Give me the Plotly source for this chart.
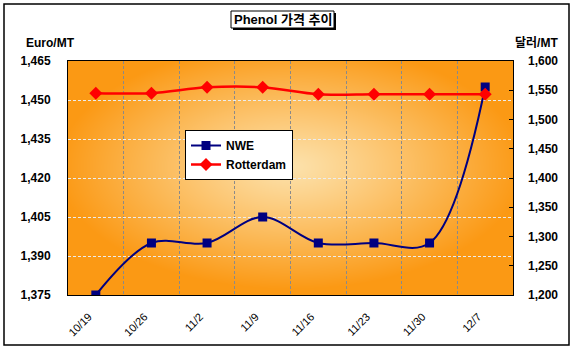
import base64, struct, zlib
import numpy as np
import plotly.graph_objects as go

# ---- data ----
dates = ["10/19", "10/26", "11/2", "11/9", "11/16", "11/23", "11/30", "12/7"]
nwe_euro = [1375, 1395, 1395, 1405, 1395, 1395, 1395, 1455]
rotterdam_usd = [1545, 1545, 1555, 1555, 1543, 1543, 1543, 1543]
left_ticks = [1375, 1390, 1405, 1420, 1435, 1450, 1465]
right_ticks = [1200, 1250, 1300, 1350, 1400, 1450, 1500, 1550, 1600]

W, H = 574, 353
L, R, T, B = 68, 61, 61, 58
PW, PH = W - L - R, H - T - B

def px(x):
    return (x - L) / PW

def py(y):
    return (H - B - y) / PH

# ---- radial gradient background as PNG ----
def gradient_png(w, h):
    yy, xx = np.mgrid[0:h, 0:w]
    dx = (xx - w * 0.5) / (w * 0.5)
    dy = (yy - h * 0.45) / (h * 0.5)
    t = np.clip(np.sqrt(dx ** 2 + dy ** 2) / 1.05, 0, 1) ** 1.1
    c0 = np.array([253, 226, 172], float)
    c1 = np.array([251, 153, 20], float)
    img = (c0[None, None, :] * (1 - t[..., None]) + c1[None, None, :] * t[..., None]).astype(np.uint8)
    raw = b"".join(b"\x00" + img[r].tobytes() for r in range(h))
    def chunk(tag, data):
        c = tag + data
        return struct.pack(">I", len(data)) + c + struct.pack(">I", zlib.crc32(c) & 0xffffffff)
    png = b"\x89PNG\r\n\x1a\n" + chunk(b"IHDR", struct.pack(">IIBBBBB", w, h, 8, 2, 0, 0, 0)) \
        + chunk(b"IDAT", zlib.compress(raw, 9)) + chunk(b"IEND", b"")
    return "data:image/png;base64," + base64.b64encode(png).decode()

FONT = "Liberation Sans, Arial, Noto Sans CJK KR"

fig = go.Figure()
fig.add_trace(go.Scatter(
    x=dates, y=nwe_euro, name="NWE", mode="lines+markers",
    line=dict(color="#000080", width=2, shape="spline", smoothing=1.0),
    marker=dict(symbol="square", size=9, color="#000080"),
    yaxis="y"))
fig.add_trace(go.Scatter(
    x=dates, y=rotterdam_usd, name="Rotterdam", mode="lines+markers",
    line=dict(color="#FF0000", width=2.5, shape="spline", smoothing=0.9),
    marker=dict(symbol="diamond", size=10, color="#FF0000"),
    yaxis="y2"))

fig.update_layout(
    width=W, height=H,
    margin=dict(l=L, r=R, t=T, b=B),
    paper_bgcolor="white", plot_bgcolor="rgba(0,0,0,0)",
    font=dict(family=FONT, size=11, color="black"),
    showlegend=True,
    legend=dict(x=px(185), y=py(130), xanchor="left", yanchor="top",
                bgcolor="white", bordercolor="black", borderwidth=1,
                font=dict(family=FONT, size=12, color="black", weight="bold"),
                itemwidth=30, tracegroupgap=0),
    xaxis=dict(type="category", tickson="boundaries", ticks="",
               showgrid=True, gridcolor="#8a8a8a", griddash="3px,2px", gridwidth=1,
               tickangle=-45, tickfont=dict(size=11), ticklabelstandoff=10,
               ticklabelshift=-7,
               showline=True, linecolor="black",
               linewidth=1, mirror=True, range=[-0.5, 7.5]),
    yaxis=dict(range=[1375, 1465], tickvals=left_ticks,
               ticktext=[f"{v:,}" for v in left_ticks],
               showgrid=True, gridcolor="#ececec", griddash="3px,2px", gridwidth=1,
               ticks="", ticklabelstandoff=14, zeroline=False,
               tickfont=dict(size=12, weight="bold"),
               showline=True, linecolor="black", linewidth=1, mirror=True),
    yaxis2=dict(range=[1200, 1600], tickvals=right_ticks,
                ticktext=[f"{v:,}" for v in right_ticks],
                overlaying="y", side="right", showgrid=False, zeroline=False,
                ticks="inside", ticklen=4, tickcolor="black", ticklabelstandoff=14,
                tickfont=dict(size=12, weight="bold")),
    images=[dict(source=gradient_png(PW, PH), xref="paper", yref="paper",
                 x=0, y=1, sizex=1, sizey=1, sizing="stretch", layer="below",
                 xanchor="left", yanchor="top")],
)

# outer frame
fig.add_shape(type="rect", xref="paper", yref="paper",
              x0=px(4), x1=px(569), y0=py(345), y1=py(4),
              line=dict(color="black", width=1.5), layer="below")

# title box with shadow
fig.add_shape(type="rect", xref="paper", yref="paper",
              x0=px(233), x1=px(336), y0=py(30), y1=py(13),
              fillcolor="black", line=dict(width=0))
fig.add_shape(type="rect", xref="paper", yref="paper",
              x0=px(231), x1=px(334), y0=py(28), y1=py(11),
              fillcolor="white", line=dict(color="black", width=1))
fig.add_annotation(text="<b>Phenol 가격 추이</b>", xref="paper", yref="paper",
                   x=px(282.5), y=py(19.5), xanchor="center", yanchor="middle",
                   showarrow=False,
                   font=dict(family=FONT, size=13, color="black"))

fig.add_annotation(text="<b>Euro/MT</b>", xref="paper", yref="paper",
                   x=px(50), y=py(43), xanchor="center", yanchor="middle",
                   showarrow=False,
                   font=dict(family=FONT, size=12, color="black"))
fig.add_annotation(text="<b>달러/MT</b>", xref="paper", yref="paper",
                   x=px(536), y=py(43), xanchor="center", yanchor="middle",
                   showarrow=False,
                   font=dict(family=FONT, size=12, color="black"))

fig.write_html("out.html")
